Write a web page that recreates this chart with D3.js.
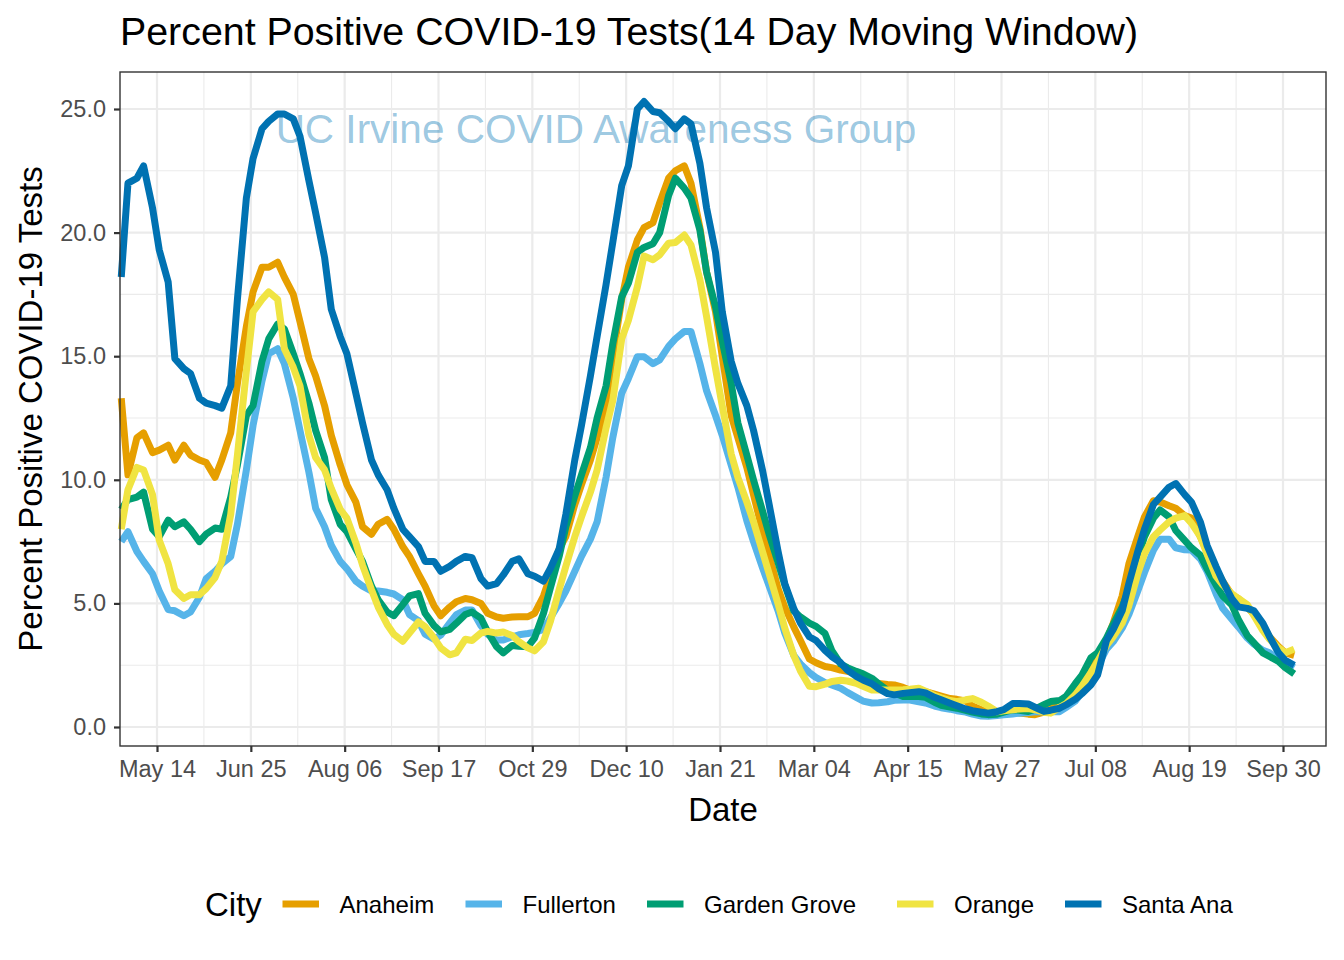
<!DOCTYPE html>
<html>
<head>
<meta charset="utf-8">
<script src="https://cdn.jsdelivr.net/npm/d3@7"></script>
<style>
  html, body { margin: 0; padding: 0; background: #ffffff; }
  svg { display: block; }
  text { font-family: "Liberation Sans", Arial, Helvetica, sans-serif; }
</style>
</head>
<body>
<svg id="chart" width="1344" height="960"></svg>
<script>
// ---------------- DATA ----------------
const dates = [
  "2020-04-28","2020-05-01","2020-05-05","2020-05-08","2020-05-12","2020-05-15","2020-05-19","2020-05-22",
  "2020-05-26","2020-05-29","2020-06-02","2020-06-05","2020-06-09","2020-06-12","2020-06-16","2020-06-19",
  "2020-06-23","2020-06-26","2020-06-30","2020-07-03","2020-07-07","2020-07-10","2020-07-14","2020-07-17",
  "2020-07-21","2020-07-24","2020-07-28","2020-07-31","2020-08-04","2020-08-07","2020-08-11","2020-08-14",
  "2020-08-18","2020-08-21","2020-08-25","2020-08-28","2020-09-01","2020-09-04","2020-09-08","2020-09-11",
  "2020-09-15","2020-09-18","2020-09-22","2020-09-25","2020-09-29","2020-10-02","2020-10-06","2020-10-09",
  "2020-10-13","2020-10-16","2020-10-20","2020-10-23","2020-10-27","2020-10-30","2020-11-03","2020-11-06",
  "2020-11-10","2020-11-13","2020-11-17","2020-11-20","2020-11-24","2020-11-27","2020-12-01","2020-12-04",
  "2020-12-08","2020-12-11","2020-12-15","2020-12-18","2020-12-22","2020-12-25","2020-12-29","2021-01-01",
  "2021-01-05","2021-01-08","2021-01-12","2021-01-15","2021-01-19","2021-01-22","2021-01-26","2021-01-29",
  "2021-02-02","2021-02-05","2021-02-09","2021-02-12","2021-02-16","2021-02-19","2021-02-23","2021-02-26",
  "2021-03-02","2021-03-05","2021-03-09","2021-03-12","2021-03-16","2021-03-19","2021-03-23","2021-03-26",
  "2021-03-30","2021-04-02","2021-04-06","2021-04-09","2021-04-13","2021-04-16","2021-04-20","2021-04-23",
  "2021-04-27","2021-04-30","2021-05-04","2021-05-07","2021-05-11","2021-05-14","2021-05-18","2021-05-21",
  "2021-05-25","2021-05-28","2021-06-01","2021-06-04","2021-06-08","2021-06-11","2021-06-15","2021-06-18",
  "2021-06-22","2021-06-25","2021-06-29","2021-07-02","2021-07-06","2021-07-09","2021-07-13","2021-07-16",
  "2021-07-20","2021-07-23","2021-07-27","2021-07-30","2021-08-03","2021-08-06","2021-08-10","2021-08-13",
  "2021-08-17","2021-08-20","2021-08-24","2021-08-27","2021-08-31","2021-09-03","2021-09-07","2021-09-10",
  "2021-09-14","2021-09-17","2021-09-21","2021-09-24","2021-09-28","2021-10-01","2021-10-05"
];

const cities = ["Anaheim", "Fullerton", "Garden Grove", "Orange", "Santa Ana"];
const cityColors = ["#E69F00", "#56B4E9", "#009E73", "#F0E442", "#0072B2"];

const anaheim = [
  13.3, 10.2, 11.7, 11.9, 11.1, 11.2, 11.4, 10.8, 11.4, 11.0, 10.8, 10.7, 10.1, 10.8, 11.9, 13.9,
  16.2, 17.6, 18.6, 18.6, 18.8, 18.2, 17.5, 16.4, 14.9, 14.2, 13.0, 11.8, 10.6, 9.8, 9.1, 8.1,
  7.8, 8.2, 8.4, 8.0, 7.3, 6.9, 6.2, 5.7, 4.9, 4.5, 4.85, 5.07, 5.2, 5.15, 5.0, 4.6,
  4.45, 4.4, 4.45, 4.46, 4.46, 4.6, 5.3, 6.1, 7.2, 7.7, 9.0, 9.8, 10.8, 11.7, 13.1, 15.0,
  17.3, 18.6, 19.7, 20.2, 20.4, 21.2, 22.2, 22.5, 22.7, 22.0, 20.2, 18.4, 16.8, 15.0, 12.6, 11.7,
  10.5, 9.4, 7.95, 6.95, 5.6, 4.85, 4.05, 3.5, 2.75, 2.6, 2.45, 2.4, 2.3, 2.25, 2.17, 2.0,
  1.85, 1.76, 1.72, 1.7, 1.6, 1.5, 1.45, 1.43, 1.33, 1.25, 1.15, 1.12, 1.05, 0.85, 0.7, 0.6,
  0.5, 0.55, 0.6, 0.57, 0.52, 0.5, 0.6, 0.76, 1.0, 1.22, 1.57, 1.95, 2.47, 2.75, 3.5, 4.2,
  5.3, 6.6, 7.7, 8.5, 9.15, 9.1, 8.95, 8.85, 8.55, 8.45, 7.7, 7.1, 6.4, 5.9, 5.35, 5.2,
  4.85, 4.55, 4.1, 3.65, 3.25, 3.0, 2.9
];
const fullerton = [
  7.5, 7.9, 7.1, 6.7, 6.2, 5.5, 4.75, 4.7, 4.5, 4.65, 5.25, 6.0, 6.3, 6.6, 6.9, 8.2,
  10.4, 12.2, 14.0, 15.1, 15.3, 14.7, 13.3, 12.0, 10.3, 8.85, 8.1, 7.35, 6.7, 6.4, 5.9, 5.7,
  5.5, 5.5, 5.45, 5.38, 5.15, 4.55, 4.3, 3.75, 3.55, 3.72, 4.2, 4.55, 4.73, 4.73, 4.1, 3.75,
  3.52, 3.52, 3.65, 3.73, 3.78, 3.83, 3.95, 4.4, 5.0, 5.5, 6.3, 6.9, 7.6, 8.3, 10.1, 11.7,
  13.5, 14.1, 14.98, 14.98, 14.7, 14.85, 15.4, 15.7, 16.0, 16.0, 14.7, 13.6, 12.6, 11.8, 10.6, 9.7,
  8.35, 7.5, 6.45, 5.7, 4.7, 3.8, 2.9, 2.55, 2.2, 2.0, 1.8, 1.7, 1.57, 1.4, 1.2, 1.05,
  0.97, 0.98, 1.02, 1.08, 1.09, 1.09, 1.02, 0.97, 0.85, 0.78, 0.72, 0.66, 0.6, 0.52, 0.44, 0.43,
  0.46, 0.49, 0.53, 0.56, 0.59, 0.62, 0.62, 0.62, 0.62, 0.8, 1.05, 1.4, 1.85, 2.45, 3.15, 3.45,
  4.0, 4.55, 5.5, 6.25, 7.15, 7.6, 7.6, 7.25, 7.17, 7.16, 6.8, 6.3, 5.4, 4.8, 4.37, 4.05,
  3.6, 3.35, 3.1, 3.0, 2.75, 2.6, 2.4
];
const gardenGrove = [
  8.8, 9.2, 9.3, 9.5, 8.0, 7.7, 8.37, 8.1, 8.3, 8.0, 7.5, 7.8, 8.05, 8.0, 9.3, 10.6,
  12.6, 13.0, 14.8, 15.7, 16.3, 16.1, 15.1, 14.3, 13.1, 12.0, 10.9, 9.2, 8.2, 7.9, 7.2, 6.7,
  5.7, 5.15, 4.65, 4.5, 4.95, 5.3, 5.4, 4.6, 4.1, 3.85, 3.95, 4.2, 4.55, 4.65, 4.4, 3.85,
  3.25, 3.0, 3.3, 3.27, 3.25, 3.6, 4.6, 5.6, 6.9, 8.1, 9.35, 10.2, 11.3, 12.5, 13.8, 15.5,
  17.4, 17.95, 19.2, 19.4, 19.55, 20.0, 21.5, 22.2, 21.8, 21.4, 20.1, 18.4, 17.0, 15.6, 13.9, 12.3,
  11.0, 10.0, 8.75, 7.8, 6.65, 5.75, 4.7, 4.45, 4.2, 4.07, 3.78, 3.1, 2.55, 2.4, 2.25, 2.15,
  1.97, 1.75, 1.48, 1.38, 1.23, 1.23, 1.23, 1.2, 1.0, 0.88, 0.81, 0.76, 0.67, 0.6, 0.53, 0.5,
  0.52, 0.6, 0.7, 0.68, 0.63, 0.72, 0.9, 1.03, 1.07, 1.25, 1.75, 2.1, 2.8, 3.0, 3.6, 4.15,
  4.85, 5.55, 6.85, 7.7, 8.45, 8.78, 8.5, 7.95, 7.55, 7.25, 6.95, 6.4, 5.75, 5.3, 4.95, 4.35,
  3.7, 3.4, 3.0, 2.85, 2.65, 2.4, 2.15
];
const orange = [
  8.0, 9.6, 10.5, 10.4, 9.4, 7.56, 6.6, 5.55, 5.2, 5.35, 5.35, 5.6, 6.05, 6.7, 8.6, 11.0,
  14.4, 16.8, 17.3, 17.6, 17.3, 15.3, 14.55, 13.8, 11.8, 10.9, 10.4, 9.65, 8.8, 8.45, 7.45, 6.55,
  5.55, 4.85, 4.15, 3.75, 3.47, 3.8, 4.25, 4.06, 3.6, 3.2, 2.92, 3.0, 3.55, 3.5, 3.8, 3.87,
  3.8, 3.84, 3.7, 3.45, 3.2, 3.08, 3.45, 4.25, 5.55, 6.5, 7.7, 8.5, 9.5, 10.4, 12.1, 13.2,
  15.7, 16.45, 17.8, 19.05, 18.9, 19.1, 19.57, 19.6, 19.9, 19.5, 18.1, 16.6, 14.5, 13.0, 11.05, 10.1,
  9.1, 8.3, 7.1, 6.2, 4.98, 4.0, 2.9, 2.27, 1.65, 1.63, 1.73, 1.84, 1.89, 1.86, 1.77, 1.65,
  1.5, 1.5, 1.5, 1.5, 1.51, 1.53, 1.57, 1.45, 1.27, 1.18, 1.07, 1.02, 1.1, 1.15, 1.0, 0.85,
  0.62, 0.66, 0.7, 0.73, 0.75, 0.7, 0.6, 0.56, 0.8, 0.95, 1.3, 1.65, 2.2, 2.65, 3.3, 3.65,
  4.2, 4.9, 6.2, 7.0, 7.7, 7.97, 8.3, 8.45, 8.55, 8.25, 7.7, 7.0, 6.1, 5.75, 5.4, 5.2,
  4.95, 4.5, 3.9, 3.55, 3.2, 3.0, 3.15
];
const santaAna = [
  18.2, 22.0, 22.2, 22.7, 21.0, 19.3, 18.0, 14.9, 14.5, 14.3, 13.3, 13.1, 13.0, 12.9, 13.8, 17.3,
  21.4, 23.0, 24.2, 24.5, 24.8, 24.8, 24.6, 23.9, 22.1, 20.8, 19.0, 16.9, 15.8, 15.1, 13.5, 12.3,
  10.8, 10.2, 9.6, 8.85, 8.0, 7.7, 7.3, 6.7, 6.7, 6.3, 6.5, 6.7, 6.9, 6.85, 6.0, 5.7,
  5.8, 6.15, 6.7, 6.8, 6.2, 6.1, 5.9, 6.4, 7.2, 8.6, 10.8, 12.2, 14.2, 15.8, 17.9, 19.6,
  21.9, 22.7, 25.0, 25.3, 24.9, 24.85, 24.5, 24.2, 24.6, 24.4, 22.8, 21.0, 19.2, 16.8, 14.8, 13.9,
  13.0, 12.0, 10.4, 9.0, 7.1, 5.8, 4.8, 4.2, 3.65, 3.5, 3.1, 2.85, 2.6, 2.3, 2.05, 1.9,
  1.75, 1.55, 1.35, 1.3, 1.36, 1.39, 1.43, 1.38, 1.2, 1.1, 0.96, 0.86, 0.73, 0.66, 0.6, 0.56,
  0.62, 0.7, 0.95, 0.95, 0.93, 0.8, 0.63, 0.68, 0.76, 0.9, 1.12, 1.35, 1.7, 2.1, 3.5, 3.95,
  4.7, 5.8, 7.1, 8.0, 9.0, 9.3, 9.7, 9.85, 9.4, 9.1, 8.3, 7.35, 6.5, 5.9, 5.2, 4.86,
  4.8, 4.7, 4.2, 3.65, 3.0, 2.7, 2.5
];

const xTickDates = ["2020-05-14","2020-06-25","2020-08-06","2020-09-17","2020-10-29","2020-12-10",
  "2021-01-21","2021-03-04","2021-04-15","2021-05-27","2021-07-08","2021-08-19","2021-09-30"];
const xMinorDates = ["2020-06-04","2020-07-16","2020-08-27","2020-10-08","2020-11-19","2020-12-31",
  "2021-02-11","2021-03-25","2021-05-06","2021-06-17","2021-07-29","2021-09-09"];
const yTicks = [0, 5, 10, 15, 20, 25];
const yMinor = [2.5, 7.5, 12.5, 17.5, 22.5];

const titleText = "Percent Positive COVID-19 Tests(14 Day Moving Window)";
const yTitle = "Percent Positive COVID-19 Tests";
const xTitle = "Date";
const legendTitle = "City";
const watermark = "UC Irvine COVID Awareness Group";

// ---------------- LAYOUT ----------------
const svg = d3.select("#chart");
const panel = { left: 120, right: 1326, top: 72, bottom: 746 };
const parse = d3.utcParse("%Y-%m-%d");

const x = d3.scaleUtc()
  .domain([parse("2020-05-14"), parse("2021-09-30")])
  .range([157, 1283]);
const y = d3.scaleLinear().domain([0, 25]).range([727, 109]);

const seriesValues = [anaheim, fullerton, gardenGrove, orange, santaAna];
const series = cities.map((c, i) => ({
  name: c, color: cityColors[i],
  points: dates.map((d, j) => ({ date: parse(d), value: seriesValues[i][j] }))
}));

svg.append("rect").attr("x", panel.left).attr("y", panel.top)
  .attr("width", panel.right - panel.left).attr("height", panel.bottom - panel.top)
  .attr("fill", "#ffffff");

const grid = svg.append("g");
grid.selectAll(".vminor").data(xMinorDates).enter().append("line")
  .attr("x1", d => x(parse(d))).attr("x2", d => x(parse(d)))
  .attr("y1", panel.top).attr("y2", panel.bottom)
  .attr("stroke", "#EBEBEB").attr("stroke-width", 1.1);
grid.selectAll(".hminor").data(yMinor).enter().append("line")
  .attr("x1", panel.left).attr("x2", panel.right)
  .attr("y1", d => y(d)).attr("y2", d => y(d))
  .attr("stroke", "#EBEBEB").attr("stroke-width", 1.1);
grid.selectAll(".vmajor").data(xTickDates).enter().append("line")
  .attr("x1", d => x(parse(d))).attr("x2", d => x(parse(d)))
  .attr("y1", panel.top).attr("y2", panel.bottom)
  .attr("stroke", "#EBEBEB").attr("stroke-width", 2.2);
grid.selectAll(".hmajor").data(yTicks).enter().append("line")
  .attr("x1", panel.left).attr("x2", panel.right)
  .attr("y1", d => y(d)).attr("y2", d => y(d))
  .attr("stroke", "#EBEBEB").attr("stroke-width", 2.2);

// watermark (behind the lines)
svg.append("text")
  .attr("x", 596).attr("y", 143)
  .attr("text-anchor", "middle")
  .attr("font-size", 40.5)
  .attr("fill", "#0072B2").attr("fill-opacity", 0.4)
  .text(watermark);

const line = d3.line().x(d => x(d.date)).y(d => y(d.value)).curve(d3.curveLinear);
svg.append("g").selectAll("path").data(series).enter().append("path")
  .attr("d", d => line(d.points))
  .attr("fill", "none")
  .attr("stroke", d => d.color)
  .attr("stroke-width", 7)
  .attr("stroke-linejoin", "round")
  .attr("stroke-linecap", "butt");

svg.append("rect").attr("x", panel.left).attr("y", panel.top)
  .attr("width", panel.right - panel.left).attr("height", panel.bottom - panel.top)
  .attr("fill", "none").attr("stroke", "#333333").attr("stroke-width", 1.4);

const xAxis = d3.axisBottom(x)
  .tickValues(xTickDates.map(parse))
  .tickFormat(d3.utcFormat("%b %d"))
  .tickSize(6).tickPadding(8);
const gx = svg.append("g").attr("transform", `translate(0,${panel.bottom})`).call(xAxis);
gx.select(".domain").remove();
gx.selectAll(".tick line").attr("stroke", "#333333").attr("stroke-width", 2.2);
gx.selectAll(".tick text").attr("fill", "#4D4D4D").attr("font-size", 23.5)
  .attr("font-family", "Liberation Sans, Arial, sans-serif").attr("dy", "0.71em");

const yAxis = d3.axisLeft(y).tickValues(yTicks).tickFormat(d3.format(".1f"))
  .tickSize(6).tickPadding(8);
const gy = svg.append("g").attr("transform", `translate(${panel.left},0)`).call(yAxis);
gy.select(".domain").remove();
gy.selectAll(".tick line").attr("stroke", "#333333").attr("stroke-width", 2.2);
gy.selectAll(".tick text").attr("fill", "#4D4D4D").attr("font-size", 23.5)
  .attr("font-family", "Liberation Sans, Arial, sans-serif");

svg.append("text").attr("x", 120).attr("y", 45)
  .attr("font-size", 39.5).attr("fill", "#000")
  .attr("textLength", 1018).attr("lengthAdjust", "spacingAndGlyphs")
  .text(titleText);
svg.append("text").attr("x", (panel.left + panel.right) / 2).attr("y", 821)
  .attr("text-anchor", "middle").attr("font-size", 33).attr("fill", "#000")
  .text(xTitle);
svg.append("text")
  .attr("transform", `translate(42,${(panel.top + panel.bottom) / 2}) rotate(-90)`)
  .attr("text-anchor", "middle").attr("font-size", 33).attr("fill", "#000")
  .text(yTitle);

const legend = svg.append("g");
legend.append("text").attr("x", 205).attr("y", 916).attr("font-size", 33).attr("fill", "#000").text(legendTitle);
const keyX = [282.5, 465.5, 647, 897, 1065];
series.forEach((s, i) => {
  legend.append("line")
    .attr("x1", keyX[i]).attr("x2", keyX[i] + 36.5)
    .attr("y1", 904).attr("y2", 904)
    .attr("stroke", s.color).attr("stroke-width", 7);
  legend.append("text")
    .attr("x", keyX[i] + 57).attr("y", 913)
    .attr("font-size", 24).attr("fill", "#000")
    .text(s.name);
});
</script>
</body>
</html>
